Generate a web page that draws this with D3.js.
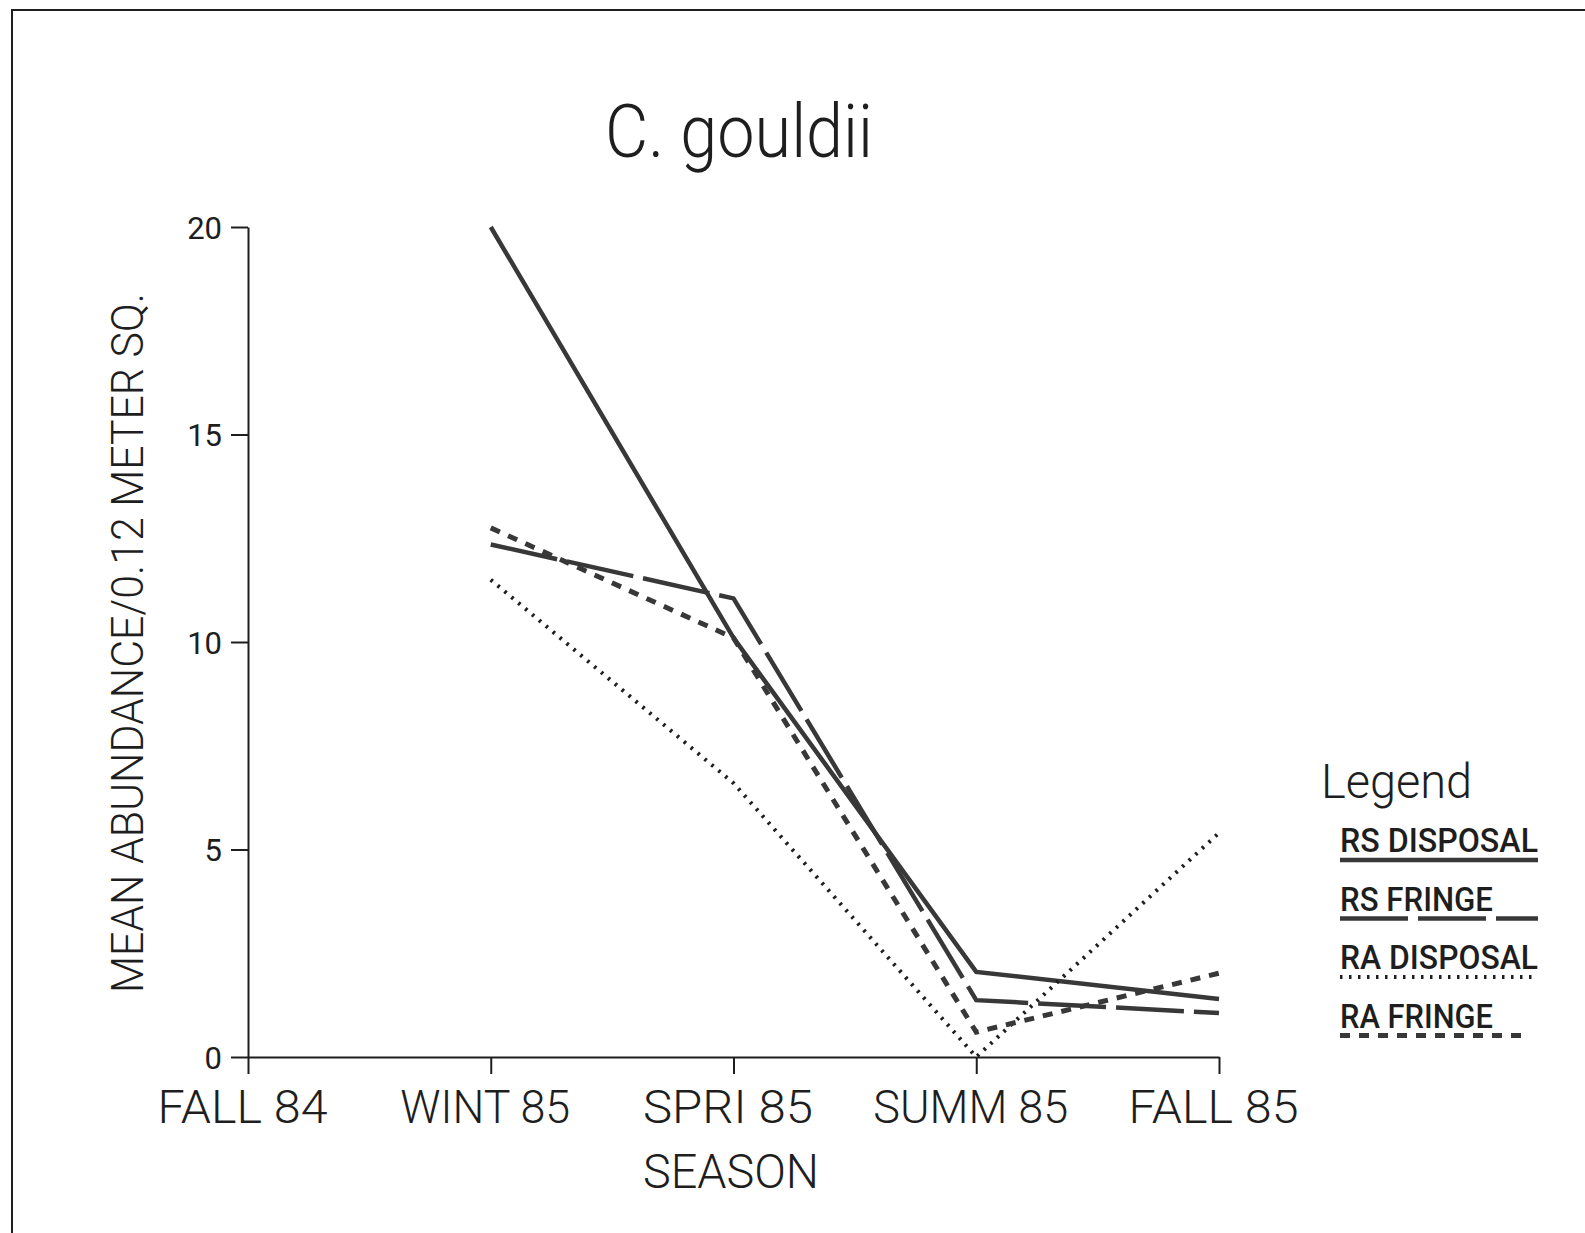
<!DOCTYPE html>
<html><head><meta charset="utf-8">
<script src="https://cdn.jsdelivr.net/npm/d3@7/dist/d3.min.js"></script>
<style>body{margin:0;background:#fff}svg{display:block}</style>
</head><body><svg id="c" width="1585" height="1233"></svg>
<script>
// ---- data ----
const seasons = ["FALL 84", "WINT 85", "SPRI 85", "SUMM 85", "FALL 85"];
const seriesNames = ["RS DISPOSAL", "RS FRINGE", "RA DISPOSAL", "RA FRINGE"];
const rsDisposal = [null, 20, 10.1, 2.05, 1.4];
const rsFringe   = [null, 12.35, 11.05, 1.37, 1.06];
const raDisposal = [null, 11.5, 6.6, 0, 5.4];
const raFringe   = [null, 12.75, 10.1, 0.6, 2.02];
const yTickValues = [0, 5, 10, 15, 20];
const chartTitle = "C. gouldii";
const xTitle = "SEASON";
const yTitle = "MEAN ABUNDANCE/0.12 METER SQ.";
const legendTitle = "Legend";

// ---- drawing ----
const svg = d3.select("#c");
const ink = "#1e1e1e";
const lineInk = "#383838";
const font = "Roboto, 'DejaVu Sans', sans-serif";

// frame
svg.append("path").attr("d", "M12,1233 L12,10 L1585,10")
  .attr("fill", "none").attr("stroke", ink).attr("stroke-width", 2);

const x = d3.scalePoint().domain(seasons).range([248, 1219]);
const y = d3.scaleLinear().domain([0, 20]).range([1057, 227]);

// axes
const yAxis = svg.append("g").attr("transform", "translate(248,0)")
  .call(d3.axisLeft(y).tickValues(yTickValues).tickSize(17).tickSizeOuter(0).tickPadding(9));
const xAxis = svg.append("g").attr("transform", "translate(0,1057)")
  .call(d3.axisBottom(x).tickSize(17).tickSizeOuter(0).tickPadding(0));
[yAxis, xAxis].forEach(g => {
  g.select(".domain").attr("stroke", ink).attr("stroke-width", 2);
  g.selectAll(".tick line").attr("stroke", ink).attr("stroke-width", 2);
});
yAxis.selectAll(".tick text").attr("font-family", font).attr("font-weight", 400)
  .attr("font-size", 31).attr("fill", ink).attr("dy", "0.36em");
xAxis.selectAll(".tick text").attr("font-family", font).attr("font-weight", 300)
  .attr("font-size", 46).attr("fill", ink).attr("y", 66).attr("dy", 0)
  .attr("dx", -6).attr("textLength", (d) => d === "SUMM 85" ? 195 : 170)
  .attr("lengthAdjust", "spacingAndGlyphs");

// titles
svg.append("text").text(chartTitle).attr("x", 739).attr("y", 157)
  .attr("text-anchor", "middle").attr("font-family", font).attr("font-weight", 300)
  .attr("font-size", 74).attr("fill", ink).attr("textLength", 268).attr("lengthAdjust", "spacingAndGlyphs");
svg.append("text").text(xTitle).attr("x", 731).attr("y", 1188)
  .attr("text-anchor", "middle").attr("font-family", font).attr("font-weight", 300)
  .attr("font-size", 48).attr("fill", ink).attr("textLength", 176).attr("lengthAdjust", "spacingAndGlyphs");
svg.append("text").text(yTitle).attr("transform", "translate(143,643) rotate(-90)")
  .attr("text-anchor", "middle").attr("font-family", font).attr("font-weight", 300)
  .attr("font-size", 45).attr("fill", ink).attr("textLength", 700).attr("lengthAdjust", "spacingAndGlyphs");

// series
const styles = [
  {data: rsDisposal, dash: null, w: 4.5, c: lineInk},
  {data: rsFringe, dash: "68,10", w: 4.5, c: lineInk},
  {data: raDisposal, dash: "2.5,6.5", w: 4, c: ink},
  {data: raFringe, dash: "10,9", w: 5, c: lineInk}
];
const line = d3.line().defined(d => d.v != null).x(d => x(d.s)).y(d => y(d.v));
styles.forEach(st => {
  const pts = seasons.map((s, i) => ({s, v: st.data[i]}));
  svg.append("path").datum(pts).attr("d", line)
    .attr("fill", "none").attr("stroke", st.c).attr("stroke-width", st.w)
    .attr("stroke-dasharray", st.dash).attr("stroke-linejoin", "miter");
});

// legend
svg.append("text").text(legendTitle).attr("x", 1321).attr("y", 798)
  .attr("font-family", font).attr("font-weight", 300).attr("font-size", 48)
  .attr("fill", ink).attr("textLength", 151).attr("lengthAdjust", "spacingAndGlyphs");
const legendWidths = [198, 153, 198, 153];
const legendLineEnd = [1538, 1538, 1532, 1530];
seriesNames.forEach((name, i) => {
  const by = 852 + i * 58.5;
  svg.append("text").text(name).attr("x", 1340).attr("y", by)
    .attr("font-family", font).attr("font-weight", 500).attr("font-size", 33)
    .attr("fill", ink).attr("textLength", legendWidths[i]).attr("lengthAdjust", "spacingAndGlyphs");
  svg.append("line").attr("x1", 1340).attr("x2", legendLineEnd[i])
    .attr("y1", by + 8).attr("y2", by + 8)
    .attr("stroke", styles[i].c).attr("stroke-width", styles[i].w)
    .attr("stroke-dasharray", styles[i].dash);
});
</script>
</body></html>
